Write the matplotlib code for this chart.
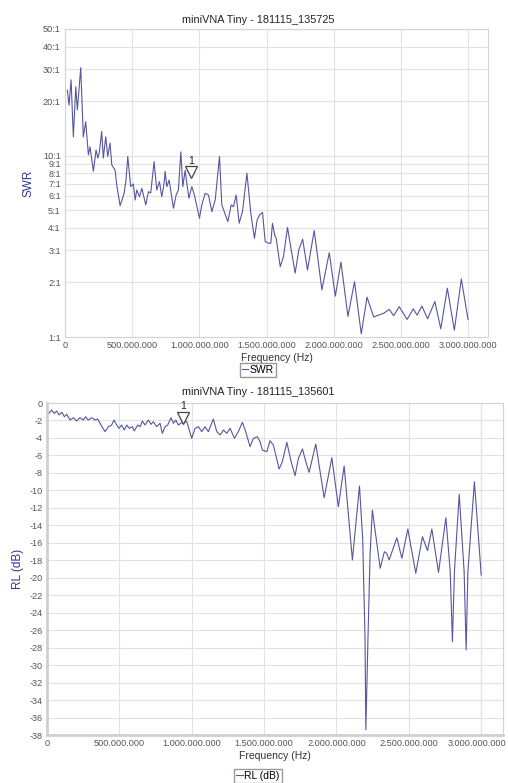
import numpy as np
import matplotlib
matplotlib.use("Agg")
import matplotlib.pyplot as plt
from matplotlib.ticker import FixedLocator, FuncFormatter, NullLocator
import matplotlib.transforms as mtransforms

plt.rcParams["font.family"] = ["Liberation Sans", "DejaVu Sans"]
plt.rcParams["axes.unicode_minus"] = False

# SWR sweep (frequency in MHz, SWR ratio)
swr_freq = [17, 30, 45, 62, 80, 92, 117, 136, 154, 174, 186, 211, 231, 244, 256, 273,
            285, 303, 318, 335, 348, 373, 385, 410, 440, 454, 467, 489, 509, 522, 534,
            554, 572, 601, 621, 638, 663, 683, 703, 720, 738, 745, 758, 775, 807, 827,
            844, 862, 877, 894, 922, 944, 963, 1001, 1018, 1043, 1068, 1093, 1118, 1150,
            1167, 1212, 1237, 1254, 1274, 1296, 1321, 1354, 1383, 1410, 1430, 1448, 1470,
            1490, 1515, 1532, 1544, 1561, 1572, 1602, 1626, 1656, 1684, 1713, 1740, 1769,
            1805, 1855, 1912, 1967, 2012, 2054, 2106, 2155, 2205, 2248, 2297, 2334, 2371,
            2414, 2446, 2488, 2546, 2593, 2620, 2657, 2699, 2753, 2797, 2846, 2898, 2950,
            3000]
swr_vals = [23.0, 19.0, 26.2, 12.7, 24.0, 17.9, 30.6, 12.7, 15.4, 10.1, 11.2, 8.2, 10.75,
            9.7, 10.5, 13.6, 9.7, 12.7, 9.9, 11.75, 8.9, 8.3, 6.9, 5.3, 6.2, 7.35, 9.9,
            6.75, 6.98, 5.7, 6.47, 5.94, 6.61, 5.35, 6.33, 6.23, 9.27, 6.47, 7.19, 5.94,
            7.07, 8.2, 6.75, 7.35, 5.13, 6.07, 6.47, 10.5, 6.75, 8.3, 5.82, 6.75, 6.07,
            4.52, 5.35, 6.2, 6.07, 4.91, 5.7, 9.9, 5.35, 4.33, 5.35, 5.23, 6.07, 4.24,
            4.91, 8.0, 4.81, 3.50, 4.42, 4.71, 4.87, 3.36, 3.29, 3.29, 4.24, 3.65, 3.50,
            2.44, 2.77, 4.02, 3.02, 2.25, 3.02, 3.46, 2.34, 3.87, 1.82, 2.92, 1.68, 2.59,
            1.30, 2.02, 1.04, 1.66, 1.29, 1.32, 1.35, 1.42, 1.31, 1.47, 1.25, 1.43, 1.32,
            1.48, 1.26, 1.57, 1.11, 1.86, 1.09, 2.09, 1.25]

# Return loss sweep (frequency in MHz, dB)
rl_freq = [1, 14, 32, 50, 67, 83, 102, 120, 136, 159, 182, 205, 228, 251, 267, 285, 309,
           332, 350, 366, 401, 424, 447, 463, 482, 498, 516, 534, 551, 569, 590, 603, 627,
           643, 659, 677, 700, 719, 735, 758, 781, 797, 816, 834, 857, 873, 890, 908, 926,
           966, 1000, 1023, 1046, 1069, 1092, 1115, 1149, 1173, 1196, 1219, 1242, 1265,
           1295, 1322, 1350, 1373, 1403, 1426, 1454, 1472, 1488, 1519, 1541, 1564, 1604,
           1626, 1657, 1687, 1714, 1737, 1765, 1788, 1811, 1857, 1915, 1968, 2013, 2053,
           2110, 2159, 2181, 2197, 2203, 2218, 2232, 2248, 2302, 2331, 2347, 2364, 2417,
           2452, 2493, 2548, 2594, 2629, 2659, 2705, 2756, 2786, 2801, 2815, 2848, 2882,
           2896, 2908, 2953, 3000]
rl_vals = [-0.8, -1.18, -0.8, -1.18, -0.92, -1.37, -1.06, -1.57, -1.29, -1.95, -1.68,
           -2.06, -1.68, -1.95, -1.57, -1.95, -1.68, -1.95, -1.83, -2.32, -3.28, -2.71,
           -2.52, -1.95, -2.52, -2.90, -2.52, -3.09, -2.52, -2.90, -2.71, -3.20, -2.52,
           -2.71, -2.06, -2.52, -1.95, -2.44, -2.14, -2.71, -2.32, -3.47, -2.71, -2.52,
           -1.68, -2.32, -1.95, -2.52, -2.29, -2.14, -4.04, -2.90, -2.71, -3.28, -2.71,
           -3.28, -1.83, -3.28, -3.66, -3.09, -3.47, -2.90, -4.04, -3.28, -2.21, -3.28,
           -5.0, -4.04, -3.86, -4.43, -5.38, -5.57, -4.31, -4.81, -7.55, -6.72, -4.50,
           -6.72, -8.32, -6.33, -5.26, -6.72, -7.93, -4.69, -10.84, -6.26, -11.87, -7.21,
           -17.97, -9.50, -15.5, -26.7, -37.4, -26.7, -17.4, -12.25, -18.92, -17.02,
           -17.2, -17.97, -15.42, -17.78, -14.42, -19.49, -15.30, -16.90, -14.42, -19.38,
           -13.13, -19.3, -27.32, -19.3, -10.45, -19.3, -28.27, -19.3, -9.01, -19.69]

marker_freq = 940
marker_swr = 7.5
marker_rl = -2.4

swr_ticks = [1, 2, 3, 4, 5, 6, 7, 8, 9, 10, 20, 30, 40, 50]
rl_ticks = list(range(0, -40, -2))
freq_ticks = [0, 500, 1000, 1500, 2000, 2500, 3000]

line_col = "#55579f"
grid_col = "#e2e2e2"
tick_col = "#555555"
ylab_col = "#2e3790"

fig = plt.figure(figsize=(5.08, 7.83), dpi=100)


def freq_fmt(v, pos):
    return f"{v * 1e6:,.0f}".replace(",", ".")


def style_axis(ax):
    ax.set_xticks(freq_ticks)
    ax.xaxis.set_major_formatter(FuncFormatter(freq_fmt))
    ax.tick_params(length=0, labelsize=6.6, colors=tick_col, pad=3)
    ax.grid(True, color=grid_col, lw=0.8)
    ax.set_axisbelow(True)
    ax.set_xlim(0, 3150)


def draw_marker(ax, y):
    off = mtransforms.offset_copy(ax.transData, fig=fig, x=0, y=4.5, units="points")
    ax.plot([marker_freq], [y], marker="v", ms=8, mfc="white", mec="#444444",
            mew=0.9, transform=off, zorder=5)
    ax.annotate("1", xy=(marker_freq, y), xytext=(0, 9), textcoords="offset points",
                ha="center", va="bottom", fontsize=7.5, color="#222222")


# --- SWR panel ---
ax1 = fig.add_axes([0.128, 0.5696, 0.833, 0.3934])
ax1.plot(swr_freq, swr_vals, color=line_col, lw=0.8, label="SWR")
ax1.set_yscale("log")
ax1.set_ylim(1, 50)
ax1.yaxis.set_major_locator(FixedLocator(swr_ticks))
ax1.yaxis.set_minor_locator(NullLocator())
ax1.yaxis.set_major_formatter(FuncFormatter(lambda v, p: f"{v:g}:1"))
style_axis(ax1)
for s in ax1.spines.values():
    s.set_color("#d4d4d4")
ax1.set_xlabel("Frequency (Hz)", fontsize=7.5, color="#333333", labelpad=2)
ax1.set_ylabel("SWR", fontsize=8.5, color=ylab_col, labelpad=6)
draw_marker(ax1, marker_swr)
fig.text(0.508, 0.9745, "miniVNA Tiny - 181115_135725", ha="center", va="center",
         fontsize=7.8, color="#222222")
fig.legend(handles=ax1.get_lines()[:1], loc="center", bbox_to_anchor=(0.508, 0.5275),
           fontsize=7.5, handlelength=0.6, handletextpad=0.15, borderpad=0.2,
           fancybox=False, edgecolor="#999999", framealpha=1)

# --- Return loss panel ---
ax2 = fig.add_axes([0.0925, 0.0613, 0.8975, 0.424])
ax2.plot(rl_freq, rl_vals, color=line_col, lw=0.8, label="RL (dB)")
ax2.set_ylim(-38, 0)
ax2.set_yticks(rl_ticks)
ax2.yaxis.set_major_formatter(FuncFormatter(lambda v, p: f"{v:.0f}"))
style_axis(ax2)
ax2.axvline(3000, color="#b8b8b8", lw=0.8, zorder=0.5)
for side in ["top", "right"]:
    ax2.spines[side].set_color("#d4d4d4")
for side in ["left", "bottom"]:
    ax2.spines[side].set_color("#cfcfcf")
    ax2.spines[side].set_linewidth(2)
ax2.set_xlabel("Frequency (Hz)", fontsize=7.5, color="#333333", labelpad=2)
ax2.set_ylabel("RL (dB)", fontsize=8.5, color=ylab_col, labelpad=4)
draw_marker(ax2, marker_rl)
fig.text(0.508, 0.4994, "miniVNA Tiny - 181115_135601", ha="center", va="center",
         fontsize=7.8, color="#222222")
fig.legend(handles=ax2.get_lines()[:1], loc="center", bbox_to_anchor=(0.508, 0.009),
           fontsize=7.5, handlelength=0.6, handletextpad=0.15, borderpad=0.2,
           fancybox=False, edgecolor="#999999", framealpha=1)

# keep the last frequency label of the lower panel inside the figure
fig.canvas.draw()
last = ax2.get_xticklabels()[-1]
last.set_transform(last.get_transform() + mtransforms.ScaledTranslation(-3 / 72, 0, fig.dpi_scale_trans))

fig.savefig("out.png", dpi=100)
